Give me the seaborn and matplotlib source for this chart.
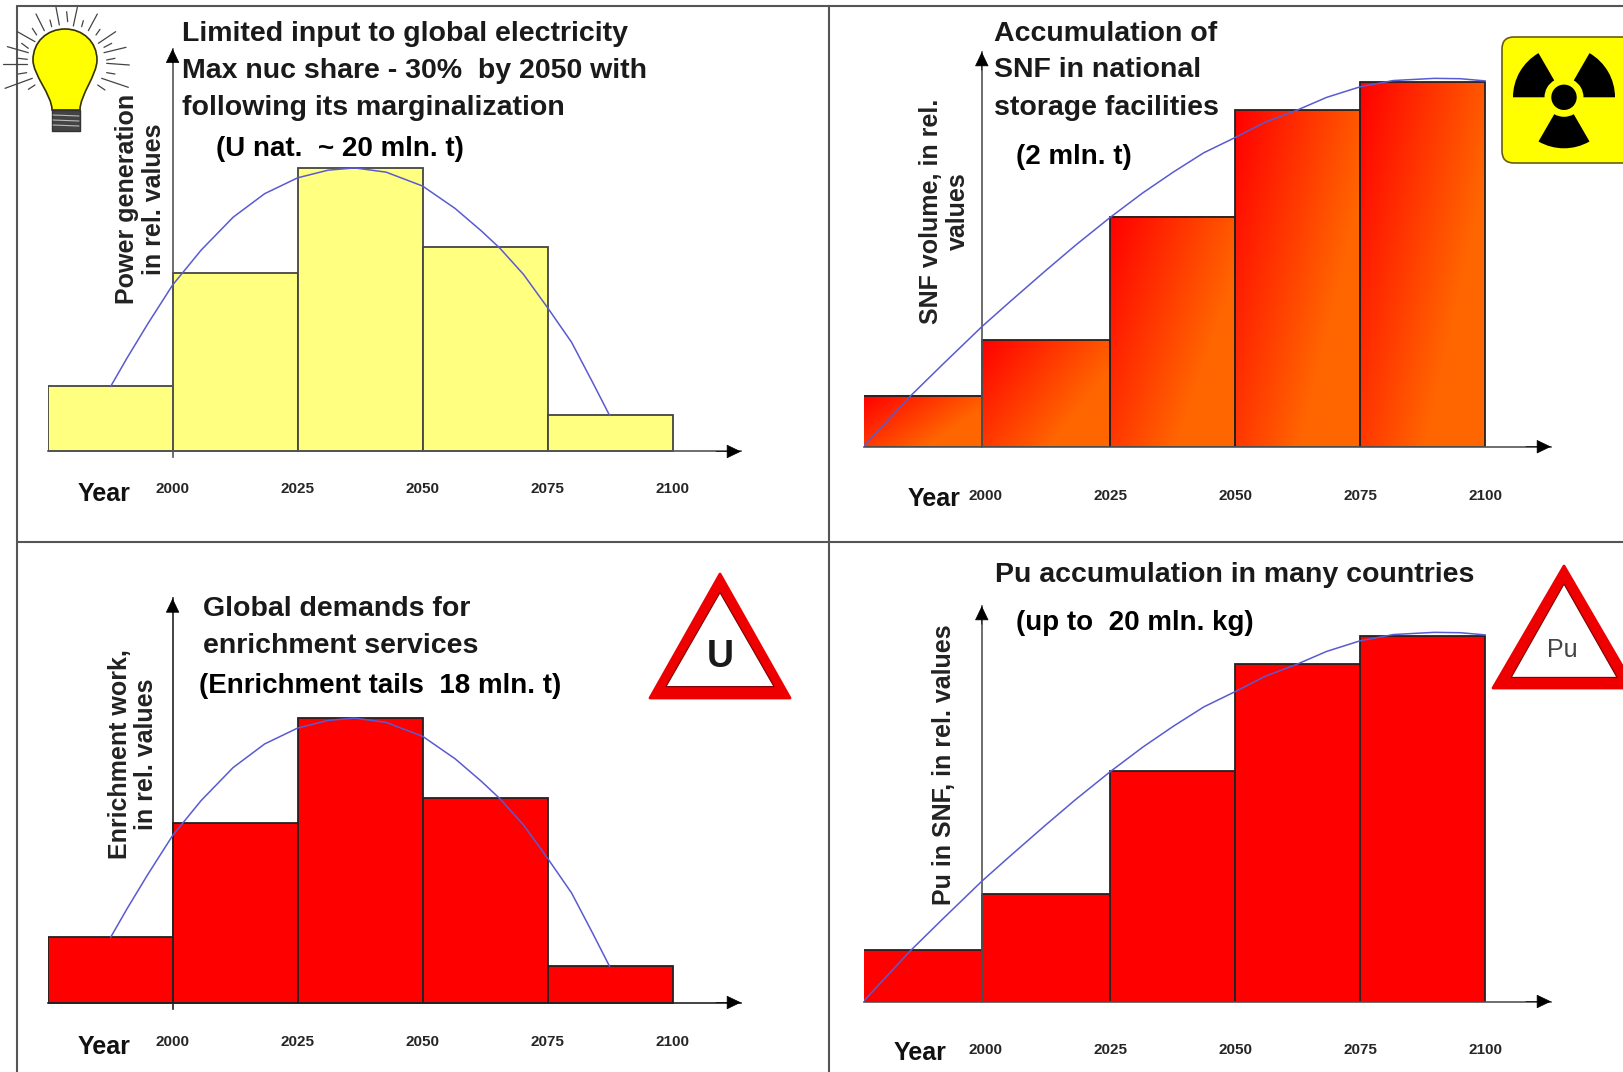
import numpy as np
import pandas as pd
import seaborn as sns
from matplotlib import pyplot as plt
from matplotlib.colors import LinearSegmentedColormap
from matplotlib.patches import Circle, FancyBboxPatch, PathPatch, Polygon, Rectangle, Wedge
from matplotlib.path import Path
from matplotlib.transforms import ScaledTranslation

W, H = 1623, 1072

tick_years = [2000, 2025, 2050, 2075, 2100]
tick_labels = ["2000", "2025", "2050", "2075", "2100"]

# bell shaped panels (left column)
bell_edges = [1975, 2000, 2025, 2050, 2075, 2100]
power_values = [23, 63, 100, 72, 13]
enrichment_values = [23, 63, 100, 72, 13]
bell_curve_years = [1987.6, 1990.9, 1995.1, 2000, 2005.7, 2012.1, 2018.4, 2025, 2031.1, 2036.4,
                    2042.7, 2050, 2056.5, 2061.8, 2065.5, 2070.2, 2075, 2079.8, 2084, 2087.4]
bell_curve_values = [22.9, 33, 45.2, 58.7, 71, 82.6, 90.9, 96.5, 99.2, 100,
                     98.5, 93.6, 85.7, 77.7, 71.6, 62.4, 50.7, 38.5, 24.4, 12.7]

# accumulation panels (right column)
accum_edges = [1975.6, 1999.3, 2025, 2050, 2075, 2100]
snf_values = [14, 29.3, 63.1, 92.4, 100]
pu_values = [14, 29.3, 63.1, 92.4, 100]
accum_curve_years = [1975.6, 1985.1, 1991.5, 1999.3, 2004.8, 2012, 2018.1, 2025, 2031.5, 2037.6, 2043.7,
                     2050, 2056, 2062.2, 2068.3, 2075, 2081.6, 2089.8, 2095, 2100]
accum_curve_values = [0, 14, 22.6, 32.9, 39.6, 48.2, 55.3, 62.9, 69.6, 75.3, 80.6,
                      84.8, 89, 92.2, 95.8, 98.7, 100.4, 101, 100.9, 100.3]

sns.set_theme(style="white")
plt.rcParams["font.family"] = ["Liberation Sans", "DejaVu Sans"]
plt.rcParams["font.weight"] = "bold"

fig = plt.figure(figsize=(W / 100, H / 100), dpi=100)

# overlay in pixel coordinates for frame, texts and icons
px = fig.add_axes([0, 0, 1, 1], zorder=5)
px.set_xlim(0, W)
px.set_ylim(H, 0)
px.axis("off")


def panel(edges, values, c_years, c_values, year0, year0_px, base_px, unit_px, left_px, right_px, top_px, below_px,
          ylabel, ylabel_xy, fill, edge, axis_col, pad_px, first_dx, linespacing=1.15):
    ppy = 5.0
    ax = fig.add_axes([left_px / W, 1 - (base_px + below_px) / H, (right_px - left_px) / W,
                       (base_px + below_px - top_px) / H])
    ax.patch.set_visible(False)
    xlim = (year0 + (left_px - year0_px) / ppy, year0 + (right_px - year0_px) / ppy)
    ylim = (-below_px / unit_px, (base_px - top_px) / unit_px)

    mids = [(a + b) / 2 for a, b in zip(edges[:-1], edges[1:])]
    df = pd.DataFrame({"year": mids, "value": values})
    sns.histplot(data=df, x="year", weights="value", bins=edges, color=fill if isinstance(fill, str) else "red",
                 alpha=1, edgecolor=edge, linewidth=1.3, ax=ax)

    if not isinstance(fill, str):
        u, v = np.meshgrid(np.linspace(0, 1, 120), np.linspace(0, 1, 120))
        grad = np.clip(0.85 * u + 0.55 * v, 0, 1)
        for p in list(ax.patches):
            p.set_facecolor("none")
            ax.imshow(grad, extent=[p.get_x(), p.get_x() + p.get_width(), 0, p.get_height()],
                      cmap=fill, vmin=0, vmax=1, aspect="auto", zorder=0.5, origin="upper")

    sns.lineplot(x=c_years, y=c_values, color="#5a5ad2", linewidth=1.1, estimator=None, sort=False, ax=ax, zorder=4)

    ax.set_xlim(xlim)
    ax.set_ylim(ylim)
    ax.set_yticks([])
    ax.set_xticks(tick_years)
    ax.set_xticklabels(tick_labels, fontsize=18, fontweight="bold", color="#111111")
    ax.tick_params(axis="x", length=0, pad=pad_px * 0.72)
    shift = ScaledTranslation(first_dx / 100, 0, fig.dpi_scale_trans)
    first = ax.get_xticklabels()[0]
    first.set_transform(first.get_transform() + shift)

    ax.set_xlabel("")
    ax.set_ylabel(ylabel, fontsize=18, fontweight="bold", color="#222222", rotation=90, ha="center", va="center",
                  linespacing=linespacing)
    ax.yaxis.set_label_coords(ylabel_xy[0], ylabel_xy[1], transform=px.transData)

    sns.despine(ax=ax)
    ax.spines["bottom"].set_position(("data", 0))
    ax.spines["left"].set_position(("data", year0))
    ax.spines["left"].set_bounds(ylim[0], ylim[1])
    for s in ["bottom", "left"]:
        ax.spines[s].set_color(axis_col)
        ax.spines[s].set_linewidth(1.2)

    style = "-|>,head_length=0.94,head_width=0.45"
    props = dict(arrowstyle=style, mutation_scale=10, color="black", lw=0.5, shrinkA=0, shrinkB=0)
    ax.annotate("", xy=(xlim[1], 0), xytext=(xlim[1] - 5, 0), arrowprops=props, annotation_clip=False)
    ax.annotate("", xy=(year0, ylim[1]), xytext=(year0, ylim[1] - 5), arrowprops=props, annotation_clip=False)
    return ax


grad_cmap = LinearSegmentedColormap.from_list("red_orange", ["#ff0000", "#ff6600"])

panel(bell_edges, power_values, bell_curve_years, bell_curve_values, 2000, 172.6, 451.5, 2.836, 47.6, 741, 48.7, 6,
      "Power generation\nin rel. values", (140.7, 199), "#ffff80", "#444444", "#555555", 31, 4.2)
panel(accum_edges, snf_values, accum_curve_years, accum_curve_values, 1999.3, 981.8 + 0.0, 446.7, 3.647, 863.5, 1551, 52, 0,
      "SNF volume, in rel.\nvalues", (944.6, 211), grad_cmap, "#222222", "#555555", 42, 18)
panel(bell_edges, enrichment_values, bell_curve_years, bell_curve_values, 2000, 172.6, 1002.5, 2.844, 47.6, 741, 598.4, 6,
      "Enrichment work,\nin rel. values", (133, 754), "#ff0000", "#222222", "#222222", 33, 4.2)
panel(accum_edges, pu_values, accum_curve_years, accum_curve_values, 1999.3, 981.8 + 0.0, 1001.5, 3.655, 863.5, 1551, 606, 0,
      "Pu in SNF, in rel. values", (944, 765), "#ff0000", "#222222", "#555555", 41, 5.6)

# panel frame
frame = "#555555"
px.plot([16.5, W], [6, 6], color=frame, lw=1.5)
px.plot([16.5, 16.5], [6, H], color=frame, lw=1.5)
px.plot([828.7, 828.7], [6, H], color=frame, lw=1.5)
px.plot([16.5, W], [541.5, 541.5], color=frame, lw=1.5)

big = dict(fontsize=20.5, fontweight="bold", color="#1a1a1a", va="baseline", ha="left")
sub = dict(fontsize=20, fontweight="bold", color="black", va="baseline", ha="left")
px.text(181.6, 41, "Limited input to global electricity", **big)
px.text(181.6, 78, "Max nuc share - 30%  by 2050 with", **big)
px.text(181.6, 115.4, "following its marginalization", **big)
px.text(215.5, 156.4, "(U nat.  ~ 20 mln. t)", **sub)
px.text(994, 40.7, "Accumulation of", **big)
px.text(994, 77, "SNF in national", **big)
px.text(994, 114.7, "storage facilities", **big)
px.text(1015.6, 164.4, "(2 mln. t)", **sub)
px.text(203.3, 616.3, "Global demands for", **big)
px.text(203.3, 653, "enrichment services", **big)
px.text(199, 693.4, "(Enrichment tails  18 mln. t)", **sub)
px.text(995, 582.4, "Pu accumulation in many countries", **big)
px.text(1015.6, 630, "(up to  20 mln. kg)", **sub)

year_opts = dict(fontsize=18, fontweight="bold", color="#111111", ha="center", va="center")
px.text(104, 493.6, "Year", **year_opts)
px.text(934, 499.5, "Year", **year_opts)
px.text(104, 1047, "Year", **year_opts)
px.text(920.5, 1053, "Year", **year_opts)

# light bulb
bulb = [(52, 110), (52, 95), (33, 75), (33, 60), (33, 42), (47, 29), (65, 29), (83, 29), (97, 42), (97, 60),
        (97, 75), (80, 95), (80, 110), (52, 110)]
codes = [Path.MOVETO] + [Path.CURVE4] * 12 + [Path.CLOSEPOLY]
px.add_patch(PathPatch(Path(bulb, codes), facecolor="#ffff00", edgecolor="#333300", lw=1.2))
px.add_patch(Rectangle((52, 110), 28, 21, facecolor="#444444", edgecolor="#333333", lw=1, joinstyle="round"))
for y in [115, 120, 125]:
    px.plot([53, 79], [y, y + 1], color="#bbbbbb", lw=0.8)
rays = [(168, 22, 178, 75), (232, 22, 220, 78), (108, 42, 133, 92), (292, 42, 265, 92), (52, 95, 105, 125),
        (347, 95, 295, 130), (22, 140, 85, 158), (378, 142, 312, 158), (10, 192, 80, 192), (388, 195, 320, 190),
        (15, 265, 97, 235), (385, 262, 305, 235), (200, 35, 203, 65), (150, 60, 155, 80), (250, 62, 245, 80),
        (97, 85, 110, 105), (300, 88, 288, 105), (65, 130, 85, 145), (335, 130, 312, 142), (55, 175, 82, 178),
        (345, 175, 320, 180), (55, 222, 80, 218), (345, 222, 320, 218), (85, 268, 105, 255), (315, 270, 293, 255)]
for x1, y1, x2, y2 in rays:
    px.plot([x1 / 3, x2 / 3], [y1 / 3, y2 / 3], color="#444444", lw=0.9)

# radiation sign
px.add_patch(FancyBboxPatch((1508, 43), 130, 114, boxstyle="round,pad=6,rounding_size=12",
                            facecolor="#ffff00", edgecolor="#6b5d10", lw=1.2, clip_on=True))
rc = (1564, 97.3)
for t1, t2 in [(180, 240), (300, 360), (60, 120)]:
    px.add_patch(Wedge(rc, 51, t1, t2, width=31.5, facecolor="black", edgecolor="none"))
px.add_patch(Circle(rc, 12.7, facecolor="black", edgecolor="none"))


def warning(apex, left, right, i_apex, i_left, i_right):
    px.add_patch(Polygon([apex, left, right], facecolor="#ee0000", edgecolor="#ee0000", lw=2, joinstyle="round"))
    px.add_patch(Polygon([i_apex, i_left, i_right], facecolor="white", edgecolor="#7a0000", lw=0.8))


warning((720, 574), (650, 698), (790, 698), (720, 592.6), (666, 686.6), (774, 686.6))
px.text(720, 657, "U", fontsize=27, fontweight="bold", color="#1a1a1a", ha="center", va="center")
warning((1564, 566), (1493, 688), (1635, 688), (1564, 584), (1511.2, 677.4), (1617, 677.4))
px.text(1562.4, 650, "Pu", fontsize=18, fontweight="normal", color="#444444", ha="center", va="center")

fig.savefig("out.png", dpi=100)
